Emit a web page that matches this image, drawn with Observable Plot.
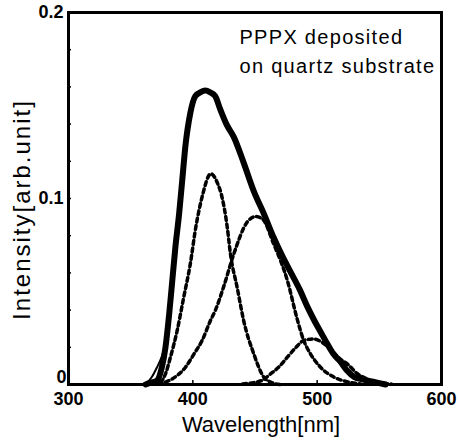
<!DOCTYPE html>
<html>
<head>
<meta charset="utf-8">
<script src="https://cdn.jsdelivr.net/npm/d3@7"></script>
<script src="https://cdn.jsdelivr.net/npm/@observablehq/plot@0.6"></script>
<style>
  html, body { margin: 0; padding: 0; background: #fff; }
  #chart { width: 458px; height: 440px; }
</style>
</head>
<body>
<div id="chart"></div>
<script>
// Measured PL spectrum (thick)
const dataWl = [362, 366, 371, 375, 378, 381, 383.5, 386, 389, 391.5, 394, 398, 402, 406, 410, 414, 418, 422, 427, 433, 441, 449, 457, 465, 472, 479, 486, 492, 498, 503, 508, 513, 519, 524, 530, 535, 545, 555];
const dataI  = [0.000, 0.001, 0.002, 0.009, 0.020, 0.038, 0.056, 0.074, 0.092, 0.110, 0.128, 0.146, 0.155, 0.157, 0.158, 0.157, 0.155, 0.148, 0.140, 0.133, 0.119, 0.104, 0.092, 0.079, 0.069, 0.060, 0.051, 0.042, 0.034, 0.028, 0.022, 0.0165, 0.012, 0.0075, 0.004, 0.003, 0.0015, 0.000];

// Fitted sum (thin solid, visible only in the low-wavelength tail)
const fitWl = [356, 360, 363, 367, 371, 375, 378, 381, 384];
const fitI  = [0.000, 0.0003, 0.001, 0.004, 0.009, 0.015, 0.022, 0.038, 0.058];

// Gaussian components (dashed)
const g1Wl = [368, 374, 378, 382, 387.4, 392.7, 398, 402, 407.5, 414.5, 420, 423, 427.6, 430.3, 435.7, 441, 449, 457, 462.5, 470];
const g1I  = [0.0002, 0.0013, 0.0057, 0.0147, 0.029, 0.047, 0.065, 0.083, 0.101, 0.1133, 0.108, 0.102, 0.085, 0.070, 0.052, 0.034, 0.0165, 0.004, 0.0013, 0.000];

const g2Wl = [372, 383.4, 394.1, 401, 407.5, 414.2, 418.2, 425, 433, 443.7, 450.5, 456, 465, 476, 484, 489, 494.6, 502.7, 513.4, 524, 535];
const g2I  = [0.0003, 0.003, 0.0093, 0.0165, 0.0237, 0.0344, 0.040, 0.053, 0.0703, 0.0873, 0.0903, 0.089, 0.0756, 0.056, 0.035, 0.024, 0.0165, 0.0093, 0.004, 0.0015, 0.0003];

const g3Wl = [440, 455, 462.5, 470, 476, 483, 489.3, 497, 505, 512, 518, 524.4, 532, 540, 550, 560];
const g3I  = [0.0003, 0.002, 0.0057, 0.010, 0.0147, 0.020, 0.0237, 0.0245, 0.0222, 0.018, 0.014, 0.011, 0.006, 0.003, 0.001, 0.0002];

// Axis ticks / labels
const xTicks = [300, 400, 500, 600];
const yTicks = [0.1, 0.2];
const yTickLabels = ["0.1", "0.2"];
const yZeroTick = [0];
const yMinorTicks = [0.02, 0.04, 0.06, 0.08, 0.1, 0.12, 0.14, 0.16, 0.18];
const xMinorTicks = [400, 500];
const xTitle = "Wavelength[nm]";
const yTitle = "Intensity[arb.unit]";
const noteLines = ["PPPX deposited", "on quartz substrate"];
const noteX = [437.5, 437.5];
const noteY = [0.1828, 0.1677];

const zip = (xs, ys) => xs.map((x, i) => ({x, y: ys[i]}));
const data = zip(dataWl, dataI);
const fit = zip(fitWl, fitI);
const g1 = zip(g1Wl, g1I);
const g2 = zip(g2Wl, g2I);
const g3 = zip(g3Wl, g3I);
const notes = noteLines.map((t, i) => ({t, x: noteX[i], y: noteY[i]}));

const dashed = {x: "x", y: "y", stroke: "black", strokeWidth: 3.5, strokeDasharray: "4,3.5", curve: "monotone-x"};
const tickText = {fontSize: 18, fontWeight: "bold", fill: "black"};

const chart = Plot.plot({
  width: 458,
  height: 440,
  marginLeft: 68,
  marginRight: 17,
  marginTop: 12,
  marginBottom: 56,
  style: {fontFamily: "'Liberation Sans', Arial, sans-serif", color: "black", background: "white"},
  x: {domain: [300, 600]},
  y: {domain: [0, 0.2]},
  marks: [
    Plot.line(g1, dashed),
    Plot.line(g2, dashed),
    Plot.line(g3, dashed),
    Plot.line(fit, {x: "x", y: "y", stroke: "black", strokeWidth: 2, curve: "monotone-x"}),
    Plot.line(data, {x: "x", y: "y", stroke: "black", strokeWidth: 6, curve: "monotone-x", strokeLinejoin: "round"}),
    Plot.axisX({ticks: xTicks, tickSize: 0, tickPadding: 8, tickFormat: d => String(d), ...tickText, label: null}),
    Plot.axisX({ticks: xMinorTicks, tickSize: -4, strokeWidth: 1.5, text: null, label: null}),
    Plot.axisY({ticks: yTicks, tickSize: 0, tickPadding: 5, tickFormat: d => yTickLabels[yTicks.indexOf(d)], ...tickText, label: null}),
    Plot.axisY({ticks: yZeroTick, tickSize: 0, tickPadding: 2, dy: -7, tickFormat: d => String(d), ...tickText, label: null}),
    Plot.axisY({ticks: yMinorTicks, tickSize: -3, strokeWidth: 1.5, text: null, label: null}),
    Plot.text([xTitle], {frameAnchor: "bottom", dx: 6, dy: 40, fontSize: 22, textAnchor: "middle", lineAnchor: "middle", text: d => d, fill: "black"}),
    Plot.text([yTitle], {frameAnchor: "left", dx: -46, dy: 11, rotate: -90, fontSize: 24, textAnchor: "middle", lineAnchor: "middle", text: d => d, fill: "black"}),
    Plot.text(notes, {x: "x", y: "y", text: "t", textAnchor: "start", lineAnchor: "bottom", fontSize: 20, fill: "black"}),
    Plot.frame({stroke: "black", strokeWidth: 3})
  ]
});
document.getElementById("chart").appendChild(chart);

// letter spacing for the wide scanned-looking labels
d3.select(chart).selectAll("text").each(function() {
  const t = this.textContent;
  if (t === yTitle) this.style.letterSpacing = "2px";
  else if (noteLines.includes(t)) this.style.letterSpacing = "1.3px";
});
</script>
</body>
</html>
